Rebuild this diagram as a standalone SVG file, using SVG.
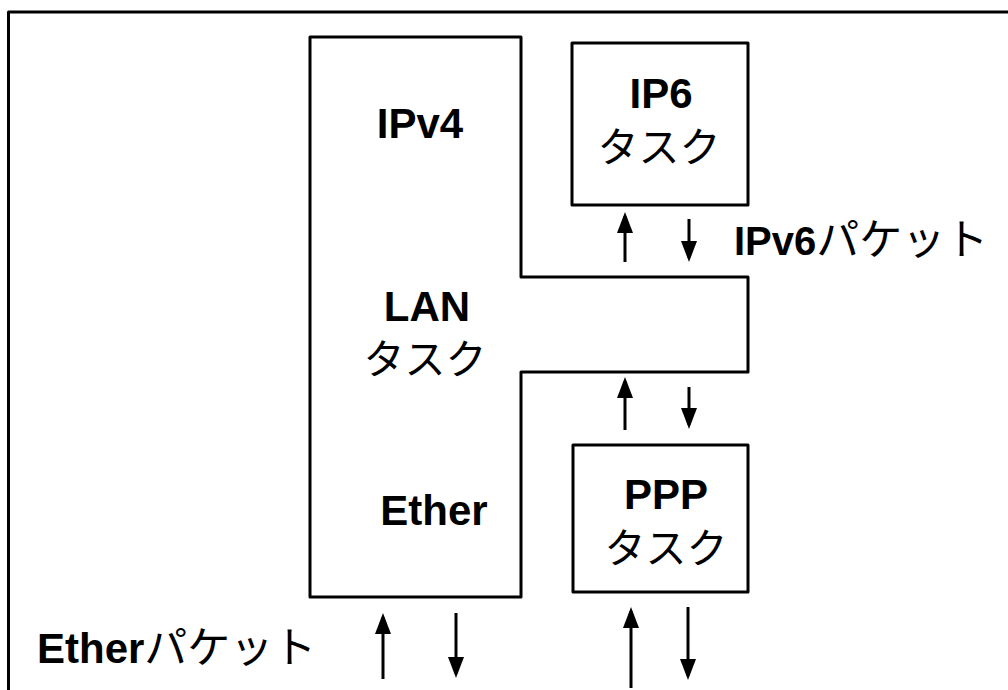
<svg xmlns="http://www.w3.org/2000/svg" width="1008" height="690" viewBox="0 0 1008 690">
  <style>
    .box { fill: none; stroke: #000; stroke-width: 3; stroke-linejoin: round; }
    .lbl { font-family: "Liberation Sans", "Noto Sans CJK JP", sans-serif; font-size: 41px; fill: #000; }
    .b { font-weight: bold; font-size: 42px; }
    .k { font-family: "Noto Sans CJK JP", sans-serif; font-weight: normal; }
    .kp { font-size: 43px; }
    .arr { stroke: #000; stroke-width: 3; fill: none; marker-end: url(#head); }
  </style>
  <defs>
    <marker id="head" markerUnits="userSpaceOnUse" markerWidth="21" markerHeight="16" refX="17" refY="8" orient="auto" viewBox="0 0 21 16">
      <path d="M0,0 L21,8 L0,16 Z" fill="#000"/>
    </marker>
  </defs>
  <rect x="0" y="0" width="1008" height="690" fill="#fff"/>
  <rect id="frame" x="8.5" y="12" width="1010" height="700" class="box"/>

  <g id="lan">
    <path class="box" d="M310,37 H521 V277 H748 V372 H521 V597 H310 Z"/>
    <text class="lbl b" x="420" y="138" text-anchor="middle">IPv4</text>
    <text class="lbl b" x="427" y="321" text-anchor="middle">LAN</text>
    <text class="lbl k" x="425" y="374" text-anchor="middle">タスク</text>
    <text class="lbl b" x="434" y="525" text-anchor="middle">Ether</text>
  </g>

  <g id="ip6">
    <rect class="box" x="572" y="43" width="176" height="162"/>
    <text class="lbl b" x="661" y="108" text-anchor="middle">IP6</text>
    <text class="lbl k" x="659" y="162" text-anchor="middle">タスク</text>
  </g>

  <g id="ppp">
    <rect class="box" x="573" y="445" width="175" height="147"/>
    <text class="lbl b" x="666" y="509" text-anchor="middle">PPP</text>
    <text class="lbl k" x="666" y="563" text-anchor="middle">タスク</text>
  </g>

  <g id="label-ipv6">
    <text class="lbl" x="734" y="255"><tspan class="b" style="font-size:40px">IPv6</tspan><tspan class="k kp">パケット</tspan></text>
  </g>
  <g id="label-ether">
    <text class="lbl" x="37" y="663"><tspan class="b">Ether</tspan><tspan class="k kp">パケット</tspan></text>
  </g>

  <g id="connectors">
    <line class="arr" x1="625" y1="262" x2="625" y2="216"/>
    <line class="arr" x1="689" y1="219" x2="689" y2="258"/>
    <line class="arr" x1="625" y1="430" x2="625" y2="381"/>
    <line class="arr" x1="689" y1="387" x2="689" y2="425"/>
    <line class="arr" x1="383" y1="679" x2="383" y2="617"/>
    <line class="arr" x1="456" y1="613" x2="456" y2="674"/>
    <line class="arr" x1="631" y1="688" x2="631" y2="611"/>
    <line class="arr" x1="688" y1="607" x2="688" y2="676"/>
  </g>
</svg>
